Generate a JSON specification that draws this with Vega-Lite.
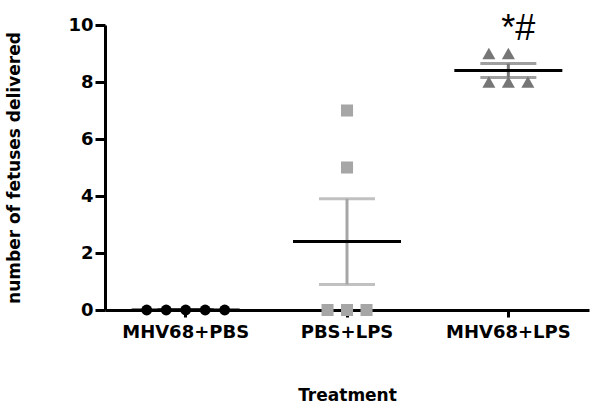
{
  "$schema": "https://vega.github.io/schema/vega-lite/v6.json",
  "width": 484,
  "height": 285,
  "autosize": {"type": "none"},
  "padding": {"left": 105, "top": 25, "right": 11, "bottom": 107},
  "background": "white",
  "config": {"view": {"stroke": null}, "font": "DejaVu Sans"},
  "datasets": {
    "pts": [
      {"group": "MHV68+PBS", "slot": -2, "value": 0},
      {"group": "MHV68+PBS", "slot": -1, "value": 0},
      {"group": "MHV68+PBS", "slot": 0, "value": 0},
      {"group": "MHV68+PBS", "slot": 1, "value": 0},
      {"group": "MHV68+PBS", "slot": 2, "value": 0},
      {"group": "PBS+LPS", "slot": -1, "value": 0},
      {"group": "PBS+LPS", "slot": 0, "value": 0},
      {"group": "PBS+LPS", "slot": 1, "value": 0},
      {"group": "PBS+LPS", "slot": 0, "value": 5},
      {"group": "PBS+LPS", "slot": 0, "value": 7},
      {"group": "MHV68+LPS", "slot": -1, "value": 9},
      {"group": "MHV68+LPS", "slot": 0, "value": 9},
      {"group": "MHV68+LPS", "slot": -1, "value": 8},
      {"group": "MHV68+LPS", "slot": 0, "value": 8},
      {"group": "MHV68+LPS", "slot": 1, "value": 8}
    ],
    "ann": [{"group": "MHV68+LPS", "value": 9.47, "label": "*#"}]
  },
  "encoding": {
    "x": {
      "field": "group",
      "type": "nominal",
      "sort": ["MHV68+PBS", "PBS+LPS", "MHV68+LPS"],
      "scale": {"paddingInner": 0, "paddingOuter": 0},
      "axis": {
        "title": "Treatment",
        "titleFontSize": 17,
        "titleFontWeight": "bold",
        "titleColor": "black",
        "titlePadding": 46,
        "labelFontSize": 18,
        "labelFontWeight": "bold",
        "labelColor": "black",
        "labelAngle": 0,
        "labelPadding": 6,
        "domainColor": "black",
        "domainWidth": 3,
        "tickColor": "black",
        "tickWidth": 3,
        "tickSize": 7
      }
    }
  },
  "layer": [
    {
      "data": {"name": "pts"},
      "mark": {"type": "point", "filled": true, "opacity": 1},
      "encoding": {
        "xOffset": {"field": "slot", "type": "quantitative", "scale": {"domain": [-2, 2], "range": [41.7, 119.7]}},
        "y": {
          "field": "value",
          "type": "quantitative",
          "title": "number of  fetuses delivered",
          "scale": {"domain": [0, 10], "nice": false, "zero": true},
          "axis": {
            "titleFontSize": 17,
            "titleFontWeight": "bold",
            "titleColor": "black",
            "titlePadding": 44,
            "values": [0, 2, 4, 6, 8, 10],
            "labelFontSize": 18,
            "labelFontWeight": "bold",
            "labelColor": "black",
            "labelPadding": 2,
            "grid": false,
            "domainColor": "black",
            "domainWidth": 3,
            "tickColor": "black",
            "tickWidth": 3,
            "tickSize": 10
          }
        },
        "shape": {"field": "group", "type": "nominal", "scale": {"domain": ["MHV68+PBS", "PBS+LPS", "MHV68+LPS"], "range": ["circle", "square", "triangle-up"]}, "legend": null},
        "color": {"field": "group", "type": "nominal", "scale": {"domain": ["MHV68+PBS", "PBS+LPS", "MHV68+LPS"], "range": ["#000000", "#a6a6a6", "#767676"]}, "legend": null},
        "size": {"field": "group", "type": "nominal", "scale": {"domain": ["MHV68+PBS", "PBS+LPS", "MHV68+LPS"], "range": [120, 170, 190]}, "legend": null}
      }
    },
    {
      "data": {"name": "pts"},
      "mark": {"type": "errorbar", "extent": "stderr", "ticks": {"size": 56, "thickness": 3}, "rule": {"strokeWidth": 3}},
      "encoding": {
        "y": {"field": "value", "type": "quantitative", "title": "number of  fetuses delivered"},
        "color": {"field": "group", "type": "nominal", "legend": null}
      }
    },
    {
      "data": {"name": "pts"},
      "mark": {"type": "tick", "size": 108, "thickness": 3, "color": "black", "opacity": 1},
      "encoding": {
        "y": {"field": "value", "type": "quantitative", "aggregate": "mean", "title": "number of  fetuses delivered"}
      }
    },
    {
      "data": {"name": "ann"},
      "mark": {"type": "text", "fontSize": 36, "font": "Liberation Sans", "dx": 10, "baseline": "alphabetic", "color": "black"},
      "encoding": {
        "y": {"field": "value", "type": "quantitative", "title": "number of  fetuses delivered"},
        "text": {"field": "label"}
      }
    }
  ]
}
